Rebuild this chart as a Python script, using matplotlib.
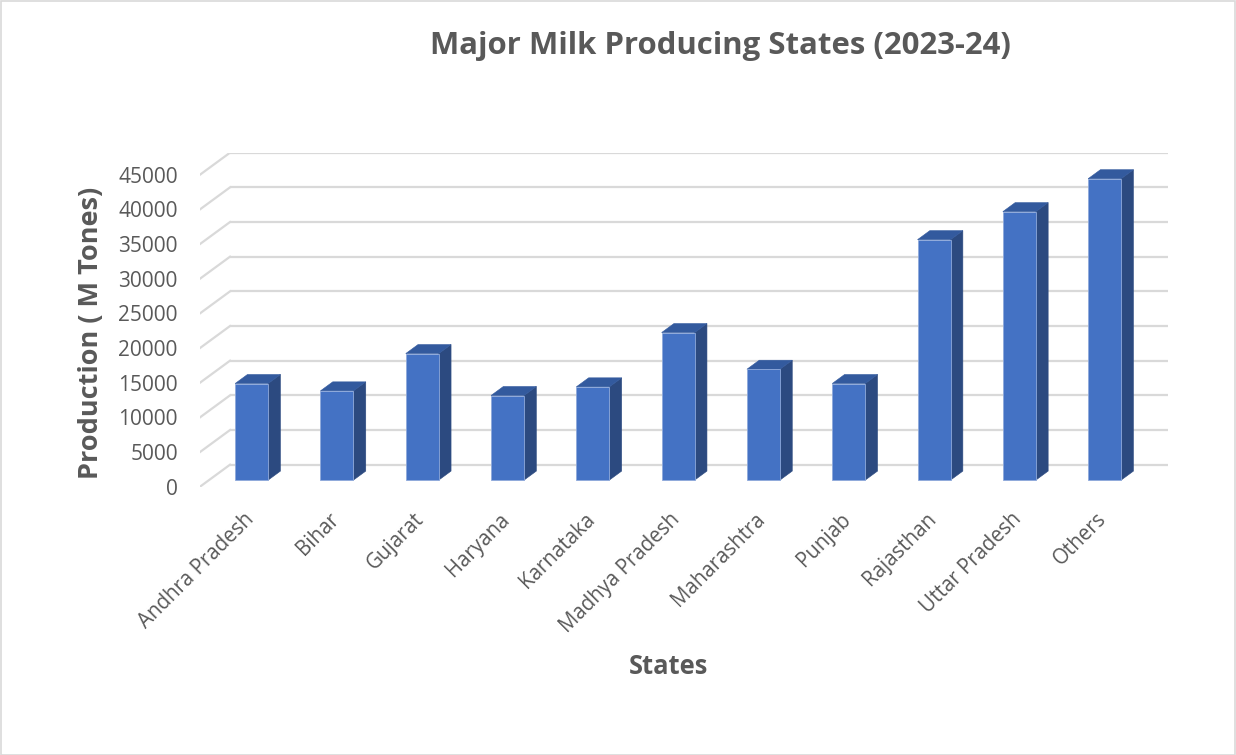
import numpy as np
import matplotlib.pyplot as plt
from matplotlib.patches import Polygon, Rectangle

states = ['Andhra Pradesh', 'Bihar', 'Gujarat', 'Haryana', 'Karnataka',
          'Madhya Pradesh', 'Maharashtra', 'Punjab', 'Rajasthan',
          'Uttar Pradesh', 'Others']
production = [13930, 12870, 18250, 12200, 13450, 21280, 15990, 13930,
              34680, 38720, 43470]
yticks = list(range(0, 45001, 5000))

plt.rcParams['font.family'] = ['Open Sans', 'DejaVu Sans']
TXT = '#595959'
FRONT = '#4472C4'
SIDE = '#2C4A80'
TOP = '#335A9E'
GRID = '#D9D9D9'

W, H = 1236, 755
fig = plt.figure(figsize=(W / 100, H / 100), dpi=100)
fig.patch.set_facecolor('white')
fig.add_artist(Rectangle((0.5 / W, 0.5 / H), 1 - 1.5 / W, 1 - 1.5 / H,
                         transform=fig.transFigure, fill=False,
                         edgecolor='#D9D9D9', lw=1.2))

# fake 3D: oblique depth offset (in category units / value units)
DX = 30 / 85.3
DY = 22 / 0.006934
Z0, DD = 0.3, 0.41       # bar front depth and bar depth
BW = 0.387               # bar width (categories)

n = len(states)
ax = fig.add_axes([200 / W, 268.3 / H, (n + DX) * 85.3 / W, 334 / H])
ax.set_xlim(0, n + DX)
ax.set_ylim(0, yticks[-1] + DY)
for s in ax.spines.values():
    s.set_visible(False)

# back wall gridlines + left wall diagonals
for v in yticks:
    ax.plot([DX, n + DX], [v + DY, v + DY], color=GRID, lw=1.6, zorder=1,
            solid_capstyle='butt')
    ax.plot([0, DX], [v, v + DY], color=GRID, lw=1.6, zorder=1)

x = np.arange(n) + 0.5 + Z0 * DX
ax.bar(x, production, width=BW, bottom=Z0 * DY, color=FRONT,
       edgecolor='#8EA9DB', linewidth=0.6, zorder=3)
for xi, v in zip(x, production):
    xl, xr = xi - BW / 2, xi + BW / 2
    y0 = Z0 * DY
    y1 = v + Z0 * DY
    ox, oy = DD * DX, DD * DY
    ax.add_patch(Polygon([(xr, y0), (xr + ox, y0 + oy), (xr + ox, y1 + oy), (xr, y1)],
                         closed=True, facecolor=SIDE, edgecolor=SIDE, lw=0.4, zorder=2))
    ax.add_patch(Polygon([(xl, y1), (xr, y1), (xr + ox, y1 + oy), (xl + ox, y1 + oy)],
                         closed=True, facecolor=TOP, edgecolor=TOP, lw=0.4, zorder=2))

ax.set_yticks(yticks)
ax.set_yticklabels([str(v) for v in yticks], fontsize=15, color=TXT)
ax.tick_params(axis='y', length=0, pad=16)

ax.set_xticks(x - 0.1)
ax.set_xticklabels(states, fontsize=14.8, color=TXT, rotation=45,
                   ha='right', rotation_mode='anchor')
ax.tick_params(axis='x', length=0, pad=16)

fig.text(720 / W, 1 - 46 / H, 'Major Milk Producing States (2023-24)',
         ha='center', va='center', fontsize=22.4, fontweight='bold', color=TXT)
fig.text(91 / W, 1 - 333 / H, 'Production ( M Tones)', rotation=90,
         ha='center', va='center', fontsize=19.5, fontweight='bold', color=TXT)
fig.text(669 / W, 1 - 667 / H, 'States', ha='center', va='center',
         fontsize=18.4, fontweight='bold', color=TXT)

fig.savefig('out.png', dpi=100, facecolor='white')
